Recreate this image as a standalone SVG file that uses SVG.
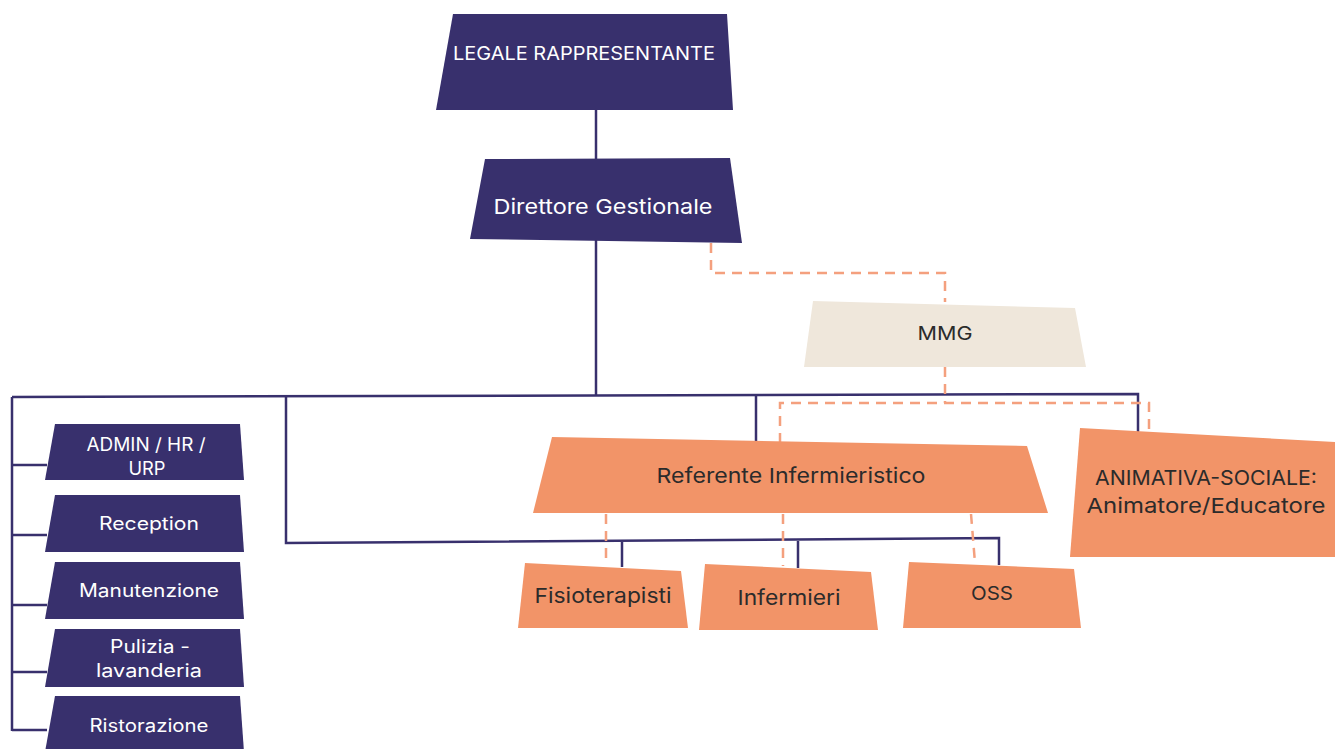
<svg xmlns="http://www.w3.org/2000/svg" width="1335" height="749" viewBox="0 0 1335 749">
<style>
.dark{fill:#38306d}
.orange{fill:#f29468}
.beige{fill:#efe7db}
.t{font-family:Inter,"Noto Sans","DejaVu Sans",sans-serif;text-anchor:middle;dominant-baseline:central}
.tw{fill:#ffffff}
.tk{fill:#2b2b2b}
.solid{fill:none;stroke:#38306d;stroke-width:2.5}
.dash{fill:none;stroke:#f4a07e;stroke-width:2.5;stroke-dasharray:10 7}
</style>
<rect width="1335" height="749" fill="#ffffff"/>
<g id="connectors">
<path class="solid" d="M596 110 V159"/>
<path class="solid" d="M596 240 V396"/>
<path class="solid" d="M12 397 L1138 394 V432"/>
<path class="solid" d="M12 397 V731"/>
<path class="solid" d="M12 465 H47 M12 535 H47 M12 605 H47 M12 672 H47 M12 730 H47"/>
<path class="solid" d="M286 396 V543 L999 538 V565"/>
<path class="solid" d="M756 395 V441"/>
<path class="solid" d="M622 542 V567 M798 541 V568"/>
<path class="dash" d="M711 243 V273 H945 V302"/>
<path class="dash" d="M945 367 V403"/>
<path class="dash" d="M780 443 V403 H1149 V431"/>
<path class="dash" d="M606 514 V564 M783 514 V566 M971 514 L975 563"/>
</g>
<g id="legale">
<polygon class="dark" points="453,14 727,14 733,110 436,110"/>
<text class="t tw" x="584" y="53" font-size="19" textLength="262" lengthAdjust="spacingAndGlyphs">LEGALE RAPPRESENTANTE</text>
</g>
<g id="direttore">
<polygon class="dark" points="485,159 730,158 742,243 470,239"/>
<text class="t tw" x="603" y="206" font-size="20.5" textLength="219" lengthAdjust="spacingAndGlyphs">Direttore Gestionale</text>
</g>
<g id="mmg">
<polygon class="beige" points="813,301 1075,308 1086,367 804,367"/>
<text class="t tk" x="945" y="333" font-size="19" textLength="55" lengthAdjust="spacingAndGlyphs">MMG</text>
</g>
<g id="referente">
<polygon class="orange" points="552,437 1027,446 1048,513 533,513"/>
<text class="t tk" x="791" y="475" font-size="20.5" textLength="269" lengthAdjust="spacingAndGlyphs">Referente Infermieristico</text>
</g>
<g id="animativa">
<polygon class="orange" points="1080,428 1335,442 1335,557 1070,557"/>
<text class="t tk" x="1206" y="478" font-size="20" textLength="222" lengthAdjust="spacingAndGlyphs">ANIMATIVA-SOCIALE:</text>
<text class="t tk" x="1206" y="505" font-size="20.5" textLength="239" lengthAdjust="spacingAndGlyphs">Animatore/Educatore</text>
</g>
<g id="fisioterapisti">
<polygon class="orange" points="525,563 681,571 688,628 518,628"/>
<text class="t tk" x="603" y="595" font-size="20.5" textLength="137" lengthAdjust="spacingAndGlyphs">Fisioterapisti</text>
</g>
<g id="infermieri">
<polygon class="orange" points="705,564 871,572 878,630 699,630"/>
<text class="t tk" x="789" y="597" font-size="20.5" textLength="103" lengthAdjust="spacingAndGlyphs">Infermieri</text>
</g>
<g id="oss">
<polygon class="orange" points="909,562 1074,569 1081,628 903,628"/>
<text class="t tk" x="992" y="593" font-size="19" textLength="42" lengthAdjust="spacingAndGlyphs">OSS</text>
</g>
<g id="admin">
<polygon class="dark" points="55,424 240,424 244,480 45,480"/>
<text class="t tw" x="146" y="444" font-size="18" textLength="119" lengthAdjust="spacingAndGlyphs">ADMIN / HR /</text>
<text class="t tw" x="147" y="468" font-size="18" textLength="37" lengthAdjust="spacingAndGlyphs">URP</text>
</g>
<g id="reception">
<polygon class="dark" points="55,495 240,495 244,552 45,552"/>
<text class="t tw" x="149" y="523" font-size="18" textLength="100" lengthAdjust="spacingAndGlyphs">Reception</text>
</g>
<g id="manutenzione">
<polygon class="dark" points="55,562 240,562 244,619 45,619"/>
<text class="t tw" x="149" y="590" font-size="18" textLength="140" lengthAdjust="spacingAndGlyphs">Manutenzione</text>
</g>
<g id="pulizia">
<polygon class="dark" points="55,629 240,629 244,687 45,687"/>
<text class="t tw" x="150" y="646" font-size="18" textLength="80" lengthAdjust="spacingAndGlyphs">Pulizia -</text>
<text class="t tw" x="149" y="670" font-size="18" textLength="106" lengthAdjust="spacingAndGlyphs">lavanderia</text>
</g>
<g id="ristorazione">
<polygon class="dark" points="55,696 240,696 244,752 45,752"/>
<text class="t tw" x="149" y="725" font-size="18" textLength="119" lengthAdjust="spacingAndGlyphs">Ristorazione</text>
</g>
</svg>
